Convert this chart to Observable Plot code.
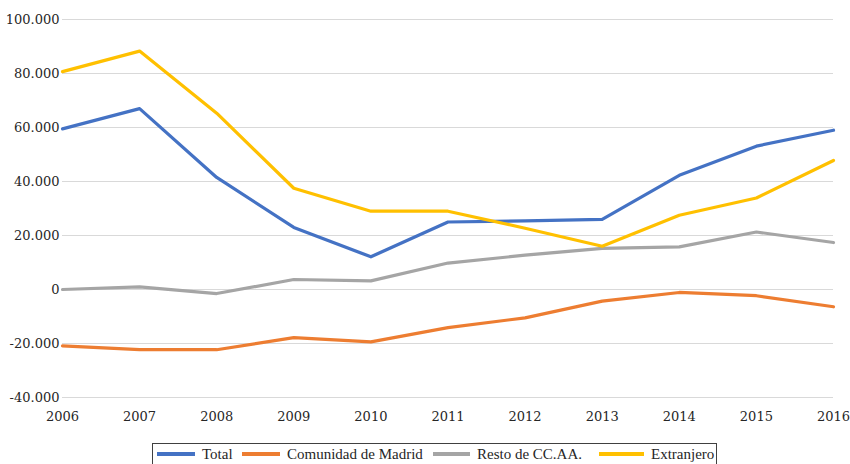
<!DOCTYPE html>
<html><head><meta charset="utf-8">
<script src="https://cdn.jsdelivr.net/npm/d3@7"></script>
<script src="https://cdn.jsdelivr.net/npm/@observablehq/plot@0.6"></script>
<style>
body{margin:0;background:#fff;font-family:"Liberation Serif",serif;}
#chart{position:absolute;left:0;top:0;}
#legend{position:absolute;left:152px;top:443px;width:565px;height:22px;border:1px solid #404040;box-sizing:border-box;font-size:15px;color:#262626;white-space:nowrap;}
#legend .sw{position:absolute;top:8px;height:4px;}
#legend .tx{position:absolute;top:1px;line-height:18px;}
</style>
</head><body>
<div id="chart"></div>
<div id="legend"></div>
<script>
const years = [2006, 2007, 2008, 2009, 2010, 2011, 2012, 2013, 2014, 2015, 2016];
const seriesNames = ["Total", "Comunidad de Madrid", "Resto de CC.AA.", "Extranjero"];
const seriesColors = ["#4472C4", "#ED7D31", "#A5A5A5", "#FFC000"];
const total = [59500, 67000, 41500, 23000, 12100, 25000, 25400, 26000, 42300, 53100, 59000];
const madrid = [-20900, -22300, -22300, -17800, -19400, -14100, -10500, -4300, -1100, -2300, -6400];
const resto = [0, 1000, -1500, 3700, 3200, 9800, 12700, 15200, 15800, 21300, 17400];
const extranjero = [80700, 88300, 65300, 37500, 29000, 29000, 22700, 16000, 27500, 33900, 47800];
const yTicks = [-40000, -20000, 0, 20000, 40000, 60000, 80000, 100000];

const seriesValues = [total, madrid, resto, extranjero];
const rows = [];
seriesNames.forEach((name, i) => {
  years.forEach((yr, j) => rows.push({serie: name, year: yr, value: seriesValues[i][j]}));
});

const fmt = d => {
  const s = Math.abs(d).toString().replace(/\B(?=(\d{3})+(?!\d))/g, ".");
  return (d < 0 ? "-" : "") + s;
};
const serif = "DejaVu Serif";

const chart = Plot.plot({
  width: 850,
  height: 430,
  marginLeft: 62,
  marginRight: 17,
  marginTop: 19,
  marginBottom: 33,
  style: {fontFamily: serif, fontSize: "13px", color: "#262626", background: "#fff"},
  x: {domain: [2006, 2016]},
  y: {domain: [-40000, 100000]},
  color: {domain: seriesNames, range: seriesColors},
  marks: [
    Plot.gridY(yTicks, {stroke: "#d9d9d9", strokeOpacity: 1, strokeWidth: 1}),
    Plot.axisY(yTicks, {tickSize: 0, tickPadding: 3, tickFormat: fmt, label: null, fontFamily: serif, fontSize: 13}),
    Plot.axisX(years, {tickSize: 0, tickPadding: 14, tickFormat: d => String(d), label: null, fontFamily: serif, fontSize: 13}),
    Plot.line(rows, {x: "year", y: "value", z: "serie", stroke: "serie", strokeWidth: 3.2, strokeLinejoin: "round", strokeLinecap: "round"})
  ]
});
document.getElementById("chart").appendChild(chart);

// legend item positions relative to the legend box
const swatchLeft = [4, 89, 280, 446];
const textLeft = [49, 134, 324, 498];
const legend = document.getElementById("legend");
seriesNames.forEach((name, i) => {
  const sw = document.createElement("span");
  sw.className = "sw";
  sw.style.left = swatchLeft[i] + "px";
  sw.style.width = (textLeft[i] - 7 - swatchLeft[i]) + "px";
  sw.style.background = seriesColors[i];
  const tx = document.createElement("span");
  tx.className = "tx";
  tx.style.left = textLeft[i] + "px";
  tx.textContent = name;
  legend.appendChild(sw);
  legend.appendChild(tx);
});
</script>
</body></html>
